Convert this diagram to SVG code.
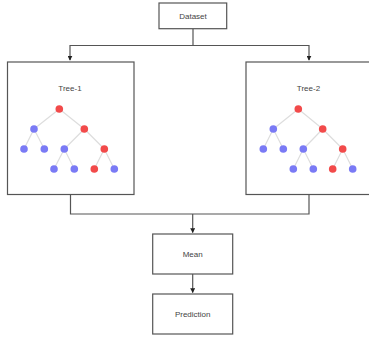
<svg xmlns="http://www.w3.org/2000/svg" width="369" height="338" viewBox="0 0 369 338">
<defs>
<marker id="arr" viewBox="0 0 8 8" refX="7" refY="4" markerWidth="5" markerHeight="5" orient="auto" markerUnits="userSpaceOnUse">
<path d="M0,0 L8,4 L0,8 z" fill="#222"/>
</marker>
</defs>
<style>
.box{fill:#fff;stroke:#555;stroke-width:1.2}
.lbl{font-family:"Liberation Sans",Arial,sans-serif;font-size:8px;fill:#444;text-anchor:middle}
.con{fill:none;stroke:#555;stroke-width:1.2}
.e{stroke:#ddd;stroke-width:1.2}
.r{fill:#f24a4a}
.b{fill:#7a7af5}
</style>
<rect width="369" height="338" fill="#fff"/>
<g id="connectors">
<path class="con" d="M193,29 V45.5 H70 V60" marker-end="url(#arr)"/>
<path class="con" d="M193,45.5 H309 V60"  marker-end="url(#arr)"/>
<path class="con" d="M70.5,194.5 V214 H309 V194.5"/>
<path class="con" d="M192.7,214 V232.5" marker-end="url(#arr)"/>
<path class="con" d="M192.7,274 V292.5" marker-end="url(#arr)"/>
</g>
<g id="dataset">
<rect class="box" x="159" y="3" width="67.7" height="25.7"/>
<text class="lbl" x="193" y="18.5">Dataset</text>
</g>
<g id="tree1">
<rect class="box" x="7.5" y="62" width="126.5" height="132.5"/>
<text class="lbl" x="70" y="91">Tree-1</text>
<g class="e">
<line x1="59.3" y1="109" x2="34" y2="129"/><line x1="59.3" y1="109" x2="84.3" y2="129"/>
<line x1="34" y1="129" x2="24" y2="149"/><line x1="34" y1="129" x2="44.3" y2="149"/>
<line x1="84.3" y1="129" x2="64.3" y2="149"/><line x1="84.3" y1="129" x2="104.3" y2="149"/>
<line x1="64.3" y1="149" x2="54" y2="169"/><line x1="64.3" y1="149" x2="74.3" y2="169"/>
<line x1="104.3" y1="149" x2="94.3" y2="169"/><line x1="104.3" y1="149" x2="114.3" y2="169"/>
</g>
<circle class="r" cx="59.3" cy="109" r="3.8"/>
<circle class="b" cx="34" cy="129" r="3.8"/>
<circle class="r" cx="84.3" cy="129" r="3.8"/>
<circle class="b" cx="24" cy="149" r="3.8"/>
<circle class="b" cx="44.3" cy="149" r="3.8"/>
<circle class="b" cx="64.3" cy="149" r="3.8"/>
<circle class="r" cx="104.3" cy="149" r="3.8"/>
<circle class="b" cx="54" cy="169" r="3.8"/>
<circle class="b" cx="74.3" cy="169" r="3.8"/>
<circle class="r" cx="94.3" cy="169" r="3.8"/>
<circle class="b" cx="114.3" cy="169" r="3.8"/>
</g>
<g id="tree2">
<rect class="box" x="246" y="62" width="130" height="132.5"/>
<text class="lbl" x="308.5" y="91">Tree-2</text>
<g class="e">
<line x1="298.3" y1="109" x2="273.3" y2="129"/><line x1="298.3" y1="109" x2="322.7" y2="129"/>
<line x1="273.3" y1="129" x2="263.3" y2="149"/><line x1="273.3" y1="129" x2="283.3" y2="149"/>
<line x1="322.7" y1="129" x2="303.3" y2="149"/><line x1="322.7" y1="129" x2="342.7" y2="149"/>
<line x1="303.3" y1="149" x2="293.3" y2="169"/><line x1="303.3" y1="149" x2="313.3" y2="169"/>
<line x1="342.7" y1="149" x2="332.7" y2="169"/><line x1="342.7" y1="149" x2="352.7" y2="169"/>
</g>
<circle class="r" cx="298.3" cy="109" r="3.8"/>
<circle class="b" cx="273.3" cy="129" r="3.8"/>
<circle class="r" cx="322.7" cy="129" r="3.8"/>
<circle class="b" cx="263.3" cy="149" r="3.8"/>
<circle class="b" cx="283.3" cy="149" r="3.8"/>
<circle class="b" cx="303.3" cy="149" r="3.8"/>
<circle class="r" cx="342.7" cy="149" r="3.8"/>
<circle class="b" cx="293.3" cy="169" r="3.8"/>
<circle class="b" cx="313.3" cy="169" r="3.8"/>
<circle class="r" cx="332.7" cy="169" r="3.8"/>
<circle class="b" cx="352.7" cy="169" r="3.8"/>
</g>
<g id="mean">
<rect class="box" x="152.7" y="234" width="80" height="40"/>
<text class="lbl" x="192.7" y="257">Mean</text>
</g>
<g id="prediction">
<rect class="box" x="152.7" y="294" width="80" height="40"/>
<text class="lbl" x="192.7" y="317">Prediction</text>
</g>
</svg>
